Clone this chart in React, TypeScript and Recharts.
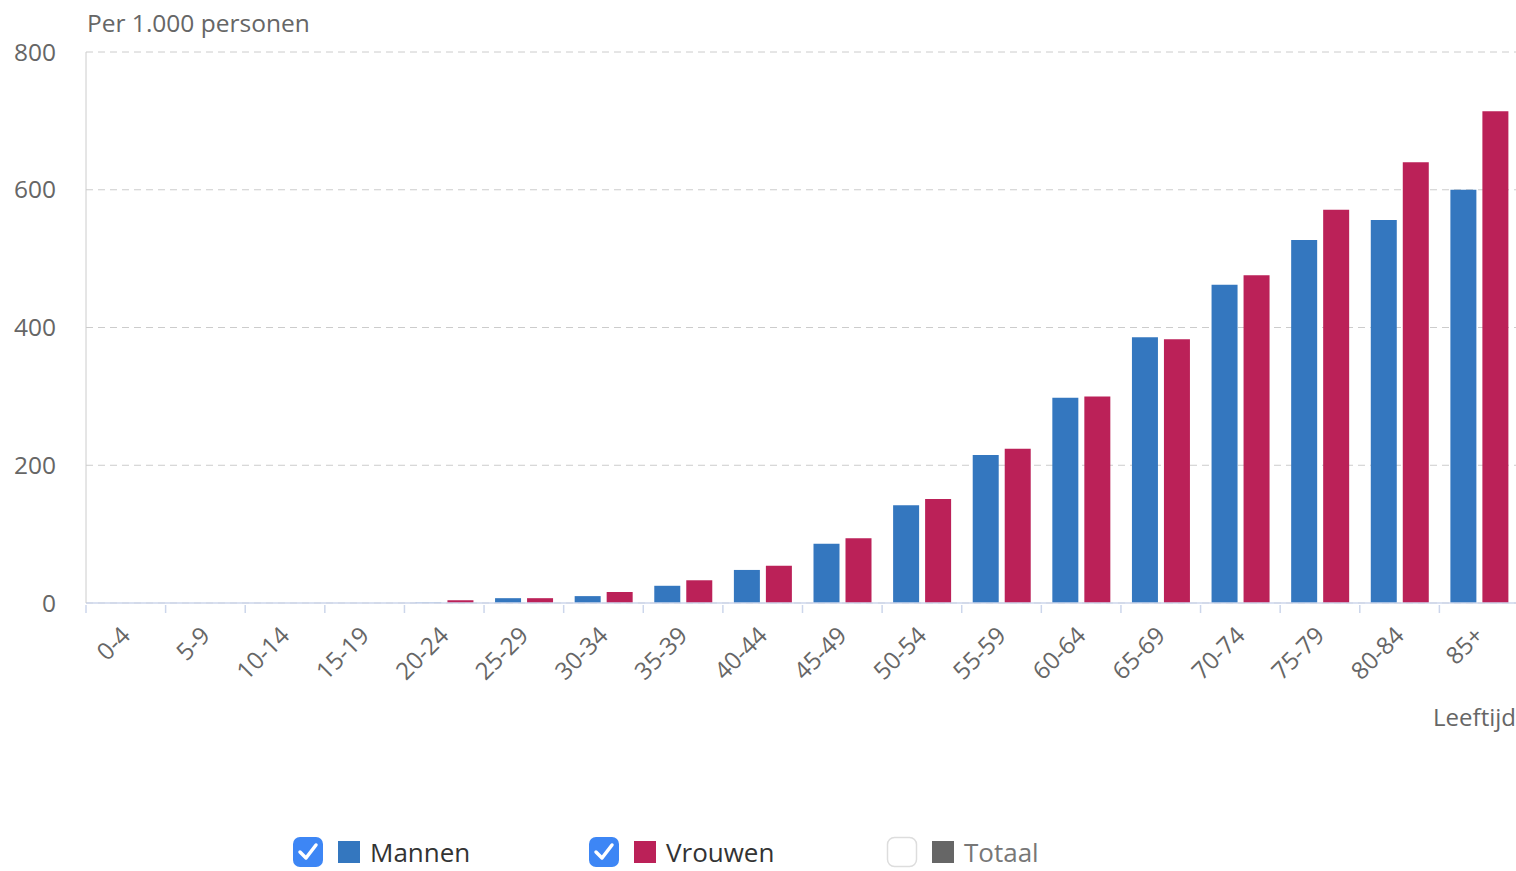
import React from 'react';
import { BarChart, Bar, XAxis, YAxis, CartesianGrid } from 'recharts';

const categories = ['0-4', '5-9', '10-14', '15-19', '20-24', '25-29', '30-34', '35-39', '40-44', '45-49', '50-54', '55-59', '60-64', '65-69', '70-74', '75-79', '80-84', '85+'];
const mannen = [0, 0, 0, 0, 0.5, 7, 10, 25, 48, 86, 142, 215, 298, 386, 462, 527, 556, 600];
const vrouwen = [0, 0, 0, 0, 4, 7, 16, 33, 54, 94, 151, 224, 300, 383, 476, 571, 640, 714];
const yTicks = [0, 200, 400, 600, 800];

const BLUE = '#3477bf';
const RED = '#bb2158';
const FONT = '"Open Sans", sans-serif';

const data = categories.map((c, i) => ({ leeftijd: c, Mannen: mannen[i], Vrouwen: vrouwen[i] }));

const W = 1524;
const H = 871;
const LEFT = 86;
const RIGHT = 5;
const band = (W - LEFT - RIGHT) / categories.length;

const XTick = (props: any) => {
  const { x, y, payload } = props;
  const tx = x + 6;
  const ty = y + 26;
  return (
    <g>
      <line x1={x - band / 2} x2={x - band / 2} y1={y - 6} y2={y + 2} stroke="#ccd6eb" strokeWidth={1.5} />
      <text x={tx} y={ty} textAnchor="end" fill="#666" fontSize={24} fontFamily={FONT} transform={`rotate(-45, ${tx}, ${ty})`}>
        {payload.value}
      </text>
    </g>
  );
};

const Check = ({ on }: { on: boolean }) => (
  <svg width={32} height={32} style={{ marginRight: 14 }}>
    {on ? (
      <>
        <rect x={1} y={1} width={30} height={30} rx={7} fill="#3d86f5" />
        <path d="M8 16 L14 22 L24 9" fill="none" stroke="#fff" strokeWidth={3.5} strokeLinecap="round" strokeLinejoin="round" />
      </>
    ) : (
      <rect x={1.5} y={1.5} width={29} height={29} rx={7} fill="#fff" stroke="#ddd" strokeWidth={1.5} />
    )}
  </svg>
);

const legendItems = [
  { name: 'Mannen', color: BLUE, on: true, left: 292 },
  { name: 'Vrouwen', color: RED, on: true, left: 588 },
  { name: 'Totaal', color: '#666', on: false, left: 886 },
];

export default function App() {
  return (
    <div style={{ position: 'absolute', left: 0, top: 0, width: 1516, height: H, overflow: 'hidden', background: '#fff', fontFamily: FONT }}>
      <div style={{ position: 'absolute', left: 87, top: 6, fontSize: 24.5, color: '#666' }}>Per 1.000 personen</div>
      <div style={{ position: 'absolute', right: 0, top: 700, fontSize: 24, color: '#666' }}>Leeftijd</div>
      <BarChart width={W} height={H} data={data} margin={{ top: 52, right: RIGHT, left: 0, bottom: 178 }} barGap={6} barSize={26}>
        <CartesianGrid vertical={false} stroke="#ccc" strokeDasharray="7 5" />
        <XAxis dataKey="leeftijd" height={90} interval={0} tickLine={false} stroke="#ccd6eb" strokeWidth={1.5} tick={<XTick />} />
        <YAxis width={LEFT} domain={[0, 800]} ticks={yTicks} tickLine={false} stroke="#ccc" tickMargin={24} tick={{ fill: '#666', fontSize: 24.5, fontFamily: FONT }} />
        <Bar dataKey="Mannen" fill={BLUE} isAnimationActive={false} />
        <Bar dataKey="Vrouwen" fill={RED} isAnimationActive={false} />
      </BarChart>
      {legendItems.map((it) => (
        <div key={it.name} style={{ position: 'absolute', left: it.left, top: 835, display: 'flex', alignItems: 'center' }}>
          <Check on={it.on} />
          <span style={{ display: 'inline-block', width: 22, height: 22, background: it.color, marginRight: 10 }} />
          <span style={{ fontSize: 26, lineHeight: '34px', color: it.on ? '#333' : '#777' }}>{it.name}</span>
        </div>
      ))}
    </div>
  );
}
